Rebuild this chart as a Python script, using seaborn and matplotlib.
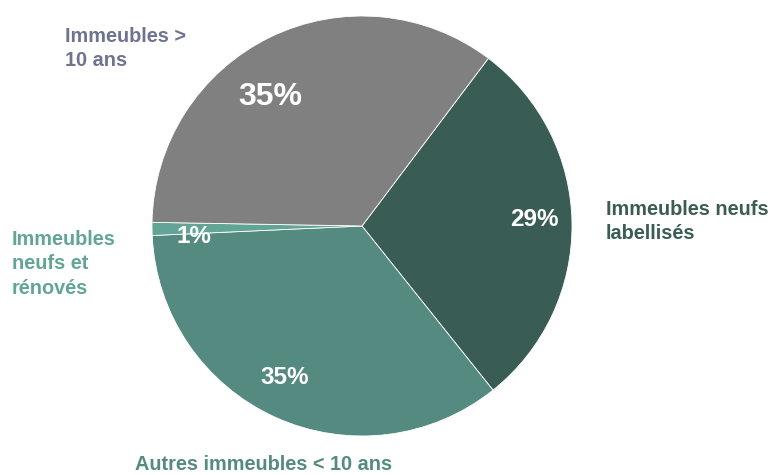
import matplotlib
matplotlib.use("Agg")
import matplotlib.pyplot as plt
import seaborn as sns

categories = ["Immeubles neufs\nlabellisés", "Autres immeubles < 10 ans",
              "Immeubles\nneufs et\nrénovés", "Immeubles >\n10 ans"]
values = [29, 35, 1, 35]
pct_labels = ["29%", "35%", "1%", "35%"]
colors = ["#395D55", "#548A7F", "#62A596", "#808080"]
label_colors = ["#395D55", "#548A7F", "#62A596", "#6E7390"]

sns.set_theme(style="white")
plt.rcParams['font.family'] = ['Liberation Sans', 'DejaVu Sans']

fig = plt.figure(figsize=(7.75, 4.75), dpi=100)
W, H = 775, 475
cx, cy, r = 362, 226, 210
ax = fig.add_axes([(cx - r) / W, (H - cy - r) / H, 2 * r / W, 2 * r / H])
wedges, _ = ax.pie(values, colors=colors, startangle=53, counterclock=False,
                   radius=1.0, wedgeprops=dict(edgecolor="white", linewidth=0.6))
ax.set_xlim(-1, 1)
ax.set_ylim(-1, 1)
ax.set_aspect("equal")
ax.axis("off")

# percentage labels (pixel positions of their centres)
pct_pos = [(534, 220), (285, 377), (194, 236), (270, 97)]
pct_size = [17.5, 17.5, 17.5, 23]
for t, (px, py), s in zip(pct_labels, pct_pos, pct_size):
    fig.text(px / W, 1 - py / H, t, ha="center", va="center", color="white",
             fontsize=s, fontweight="bold")

# category labels (left x, top y in pixels)
lab_pos = [(606, 200), (135, 455), (12, 230), (65, 27)]
for t, (px, py), c in zip(categories, lab_pos, label_colors):
    fig.text(px / W, 1 - py / H, t, ha="left", va="top", color=c,
             fontsize=14.3, fontweight="bold", linespacing=1.36)

fig.savefig("out.png", dpi=100)
